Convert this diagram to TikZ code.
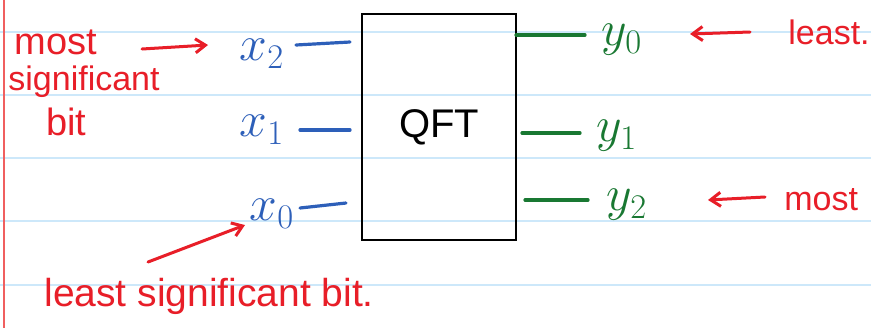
\documentclass[tikz,border=0pt]{standalone}
\usepackage{fontspec}
\setmainfont{Liberation Sans}
\usetikzlibrary{arrows.meta}
\definecolor{inkred}{RGB}{232,30,40}
\definecolor{inkblue}{RGB}{45,95,185}
\definecolor{inkgreen}{RGB}{25,120,50}
\definecolor{ruled}{RGB}{205,232,250}
\definecolor{margin}{RGB}{240,95,95}
\tikzset{
  redtxt/.style={text=inkred, inner sep=0pt, font=\fontsize{17}{19}\selectfont},
  bluelbl/.style={text=inkblue, inner sep=0pt, font=\fontsize{23}{25}\selectfont},
  greenlbl/.style={text=inkgreen, inner sep=0pt, font=\fontsize{23}{25}\selectfont},
  bluewire/.style={draw=inkblue, line width=1.6pt, line cap=round},
  greenwire/.style={draw=inkgreen, line width=1.6pt, line cap=round},
  redarrow/.style={draw=inkred, line width=1.5pt, line cap=round, -{Straight Barb[length=5pt,width=7pt]}},
  gate/.style={draw=black, line width=1.1pt, minimum width=77pt, minimum height=113pt, inner sep=0pt, font=\fontsize{20}{22}\selectfont}
}
\begin{document}
\begin{tikzpicture}[x=0.5pt,y=-0.5pt]
\useasboundingbox (0,0) rectangle (871,328);
\fill[white] (0,0) rectangle (871,328);
% ruled paper
\foreach \yy in {32,95,158,221,285}
  \draw[ruled, line width=1pt] (0,\yy) -- (871,\yy);
\draw[margin, line width=1pt] (4,0) -- (4,328);
% gate
\node[gate] (qft) at (439,127) {QFT};
% input labels
\node[bluelbl] (x2) at (262,54) {$x_2$};
\node[bluelbl] (x1) at (262,130) {$x_1$};
\node[bluelbl] (x0) at (272,214) {$x_0$};
% output labels
\node[greenlbl] (y0) at (622,40) {$y_0$};
\node[greenlbl] (y1) at (617,136) {$y_1$};
\node[greenlbl] (y2) at (627,205) {$y_2$};
% wire end points
\coordinate (x2a) at (296,45); \coordinate (x2b) at (350,42);
\coordinate (x1a) at (300,130); \coordinate (x1b) at (350,130);
\coordinate (x0a) at (300,208); \coordinate (x0b) at (346,203);
\coordinate (y0a) at (516,35); \coordinate (y0b) at (585,35);
\coordinate (y1a) at (522,133); \coordinate (y1b) at (580,133);
\coordinate (y2a) at (525,200); \coordinate (y2b) at (588,200);
\draw[bluewire] (x2a) -- (x2b);
\draw[bluewire] (x1a) -- (x1b);
\draw[bluewire] (x0a) -- (x0b);
\draw[greenwire] (y0a) -- (y0b);
\draw[greenwire] (y1a) -- (y1b);
\draw[greenwire] (y2a) -- (y2b);
% red annotations
\node[redtxt, anchor=west, font=\fontsize{19}{21}\selectfont] (most) at (14,42) {most};
\node[redtxt, anchor=west] (signif) at (8,82) {significant};
\node[redtxt, anchor=west, font=\fontsize{19}{21}\selectfont] (bit) at (46,122) {bit};
\node[redtxt, anchor=west, font=\fontsize{19.5}{21}\selectfont] (lsb) at (44,296) {least significant bit.};
\node[redtxt, anchor=west] (least) at (788,32) {least.};
\node[redtxt, anchor=west] (mostr) at (784,200) {most};
\coordinate (a1s) at (142,49); \coordinate (a1e) at (208,45);
\coordinate (a2s) at (148,262); \coordinate (a2e) at (245,225);
\coordinate (a3s) at (750,32); \coordinate (a3e) at (690,34);
\coordinate (a4s) at (765,197); \coordinate (a4e) at (708,200);
\draw[redarrow] (a1s) -- (a1e);
\draw[redarrow] (a2s) -- (a2e);
\draw[redarrow] (a3s) -- (a3e);
\draw[redarrow] (a4s) -- (a4e);
\end{tikzpicture}
\end{document}
